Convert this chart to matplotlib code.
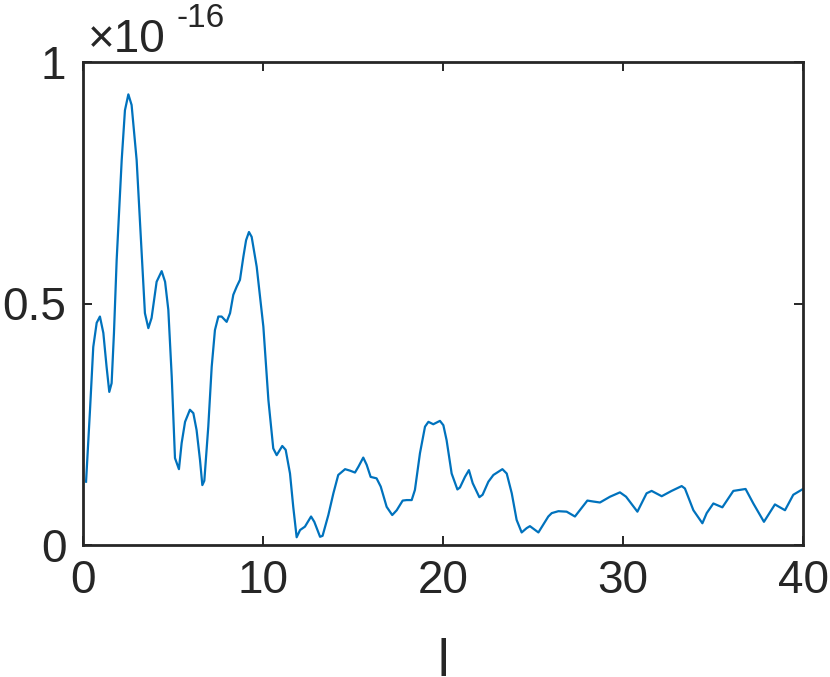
import numpy as np
import matplotlib
matplotlib.use("Agg")
import matplotlib.pyplot as plt

# values (y in units of 1e-16)
l_vals = [0.17, 0.39, 0.57, 0.76, 0.94, 1.13, 1.31, 1.46, 1.59, 1.72, 1.87,
          2.15, 2.33, 2.52, 2.70, 2.98, 3.26, 3.44, 3.63, 3.81, 4.09, 4.37,
          4.56, 4.74, 4.93, 5.11, 5.33, 5.48, 5.67, 5.94, 6.13, 6.31, 6.50,
          6.63, 6.74, 6.96, 7.15, 7.33, 7.52, 7.70, 7.98, 8.17, 8.35, 8.54,
          8.72, 8.91, 9.06, 9.22, 9.37, 9.65, 10.02, 10.30, 10.57, 10.76,
          11.07, 11.26, 11.50, 11.68, 11.87, 12.06, 12.33, 12.67, 12.85,
          13.17, 13.31, 13.63, 13.91, 14.18, 14.56, 14.83, 15.11, 15.30,
          15.57, 15.76, 15.98, 16.31, 16.54, 16.87, 17.18, 17.43, 17.76,
          17.98, 18.26, 18.44, 18.72, 19.00, 19.19, 19.46, 19.83, 20.02,
          20.20, 20.48, 20.80, 20.94, 21.22, 21.44, 21.65, 22.02, 22.20,
          22.52, 22.80, 23.30, 23.54, 23.82, 24.09, 24.37, 24.65, 24.83,
          25.30, 25.85, 26.04, 26.41, 26.87, 27.33, 28.02, 28.35, 28.72,
          29.28, 29.83, 30.17, 30.80, 31.31, 31.59, 32.15, 32.70, 33.26,
          33.44, 33.91, 34.41, 34.65, 35.02, 35.52, 36.13, 36.81, 37.24,
          37.83, 38.44, 39.00, 39.46, 40.00]
err_vals = [0.131, 0.280, 0.410, 0.460, 0.473, 0.439, 0.369, 0.317, 0.335,
            0.439, 0.590, 0.797, 0.900, 0.933, 0.911, 0.797, 0.604, 0.480,
            0.449, 0.470, 0.545, 0.567, 0.545, 0.487, 0.348, 0.180, 0.157,
            0.211, 0.255, 0.280, 0.273, 0.238, 0.176, 0.124, 0.133, 0.245,
            0.369, 0.445, 0.473, 0.473, 0.462, 0.480, 0.518, 0.535, 0.549,
            0.597, 0.631, 0.648, 0.638, 0.576, 0.452, 0.300, 0.200, 0.186,
            0.205, 0.197, 0.148, 0.079, 0.016, 0.031, 0.038, 0.059, 0.048,
            0.017, 0.019, 0.062, 0.107, 0.145, 0.157, 0.154, 0.150, 0.162,
            0.181, 0.166, 0.141, 0.138, 0.121, 0.079, 0.062, 0.072, 0.092,
            0.093, 0.093, 0.114, 0.190, 0.245, 0.255, 0.250, 0.257, 0.248,
            0.217, 0.148, 0.115, 0.119, 0.141, 0.155, 0.128, 0.099, 0.104,
            0.131, 0.145, 0.157, 0.148, 0.107, 0.052, 0.026, 0.035, 0.039,
            0.026, 0.059, 0.066, 0.070, 0.069, 0.059, 0.092, 0.090, 0.088,
            0.100, 0.109, 0.100, 0.069, 0.107, 0.112, 0.101, 0.112, 0.122,
            0.117, 0.072, 0.045, 0.066, 0.086, 0.078, 0.112, 0.116, 0.086,
            0.048, 0.084, 0.072, 0.104, 0.116]
x_ticks = [0, 10, 20, 30, 40]
y_ticks = [0, 0.5, 1]
y_ticklabels = ['0', '0.5', '1']
scale = 1e-16

plt.rcParams['font.family'] = ['Liberation Sans', 'DejaVu Sans']
dark = '#262626'

fig = plt.figure(figsize=(8.3, 6.77), dpi=100)
ax = fig.add_axes([83 / 830, 132 / 677, 720 / 830, 483 / 677])

ax.plot(l_vals, np.array(err_vals) * scale, color='#0072BD', lw=1.6)

ax.set_xlim(0, 40)
ax.set_ylim(0, 1 * scale)
ax.set_xticks(x_ticks)
ax.set_yticks(np.array(y_ticks) * scale)
ax.set_yticklabels(y_ticklabels)

ax.tick_params(direction='in', length=6.5, width=1.4, colors=dark,
               labelsize=33, top=True, right=True, pad=10)
ax.tick_params(axis='y', pad=12)
for sp in ax.spines.values():
    sp.set_color(dark)
    sp.set_linewidth(2.0)

ax.set_xlabel('l', fontsize=37, color=dark, labelpad=25)

# exponent label in the MATLAB style
fig.text(88 / 830, 1 - 52 / 677, '\u00d710', fontsize=33, color=dark,
         ha='left', va='baseline')
fig.text(176 / 830, 1 - 27 / 677, '-16', fontsize=24, color=dark,
         ha='left', va='baseline')

fig.savefig('out.png', dpi=100)
